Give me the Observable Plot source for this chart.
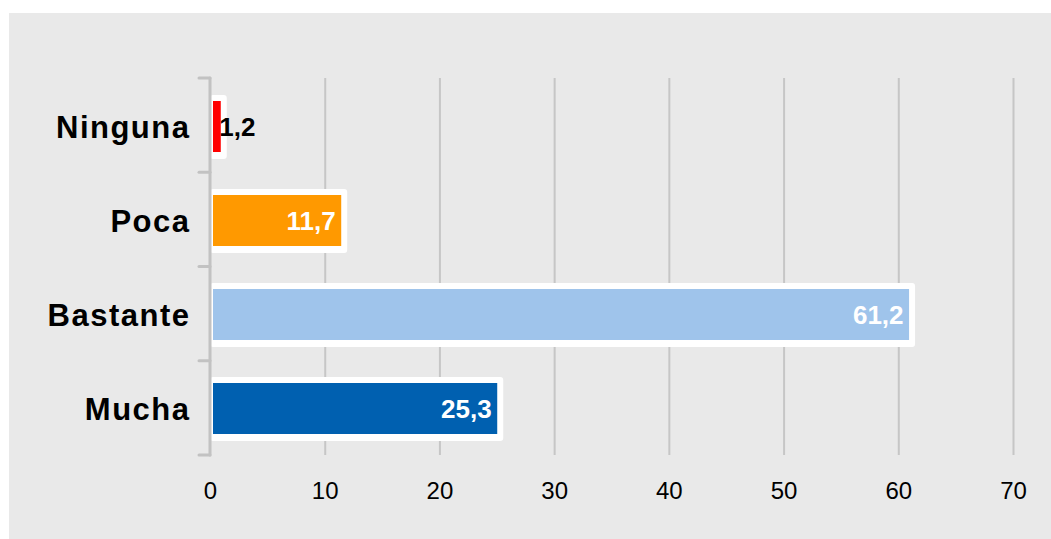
<!DOCTYPE html>
<html>
<head>
<meta charset="utf-8">
<script src="https://cdn.jsdelivr.net/npm/d3@7"></script>
<script src="https://cdn.jsdelivr.net/npm/@observablehq/plot@0.6"></script>
<style>
  html, body { margin: 0; padding: 0; background: #ffffff; }
  #chart { position: absolute; left: 9px; top: 13px; width: 1042px; height: 526px; background: #e9e9e9; }
  #chart svg { background: transparent; font-family: "Liberation Sans", Arial, sans-serif; }
  #chart g[aria-label="y-axis tick label"] text { letter-spacing: 1.5px; }
</style>
</head>
<body>
<div id="chart"></div>
<script>
const categories = ["Ninguna", "Poca", "Bastante", "Mucha"];
const values = [1.2, 11.7, 61.2, 25.3];
const labels = ["1,2", "11,7", "61,2", "25,3"];
const colors = ["#ff0000", "#ff9900", "#9fc4eb", "#0060b0"];
const xTicks = [0, 10, 20, 30, 40, 50, 60, 70];

const data = categories.map((c, i) => ({cat: c, value: values[i], label: labels[i], color: colors[i]}));
const inside = data.filter(d => d.value >= 5);
const outside = data.filter(d => d.value < 5);

const axisMark = (index, scales, vals, dims) => {
  const x0 = scales.x(0);
  const {marginTop, marginBottom, height} = dims;
  const n = categories.length;
  const step = (height - marginTop - marginBottom) / n;
  const g = d3.create("svg:g").attr("stroke", "#c2c2c2").attr("stroke-width", 3).attr("stroke-linecap", "round");
  g.append("line").attr("x1", x0).attr("x2", x0).attr("y1", marginTop).attr("y2", height - marginBottom);
  for (let i = 0; i <= n; i++) {
    const y = marginTop + i * step;
    g.append("line").attr("x1", x0 - 11).attr("x2", x0).attr("y1", y).attr("y2", y);
  }
  return g.node();
};

const chart = Plot.plot({
  width: 1042,
  height: 526,
  marginLeft: 201,
  marginRight: 38,
  marginTop: 65,
  marginBottom: 84,
  style: {background: "transparent", fontFamily: "'Liberation Sans', Arial, sans-serif"},
  x: {domain: [0, 70]},
  y: {domain: categories, padding: 0},
  marks: [
    Plot.gridX(xTicks.filter(t => t > 0), {stroke: "#c6c6c6", strokeOpacity: 1, strokeWidth: 2}),
    Plot.barX(data, {x: "value", y: "cat", fill: "white", insetTop: 16, insetBottom: 14, insetRight: -3, rx: 3}),
    Plot.barX(data, {x: "value", y: "cat", fill: "color", insetTop: 22, insetBottom: 21, insetLeft: 3, insetRight: 3}),
    axisMark,
    Plot.text(inside, {x: "value", y: "cat", text: "label", textAnchor: "end", dx: -9, dy: 1, fill: "white", fontSize: 26, fontWeight: "bold"}),
    Plot.text(outside, {x: "value", y: "cat", text: "label", textAnchor: "start", dx: -5, dy: 1, fill: "black", fontSize: 26, fontWeight: "bold"}),
    Plot.axisX({ticks: xTicks, tickFormat: d => String(d), tickSize: 0, tickPadding: 26, fontSize: 24, label: null, color: "#000"}),
    Plot.axisY({tickSize: 0, tickPadding: 20, fontSize: 31, fontWeight: "bold", dy: 2, label: null, color: "#000"})
  ]
});
document.getElementById("chart").appendChild(chart);
</script>
</body>
</html>
